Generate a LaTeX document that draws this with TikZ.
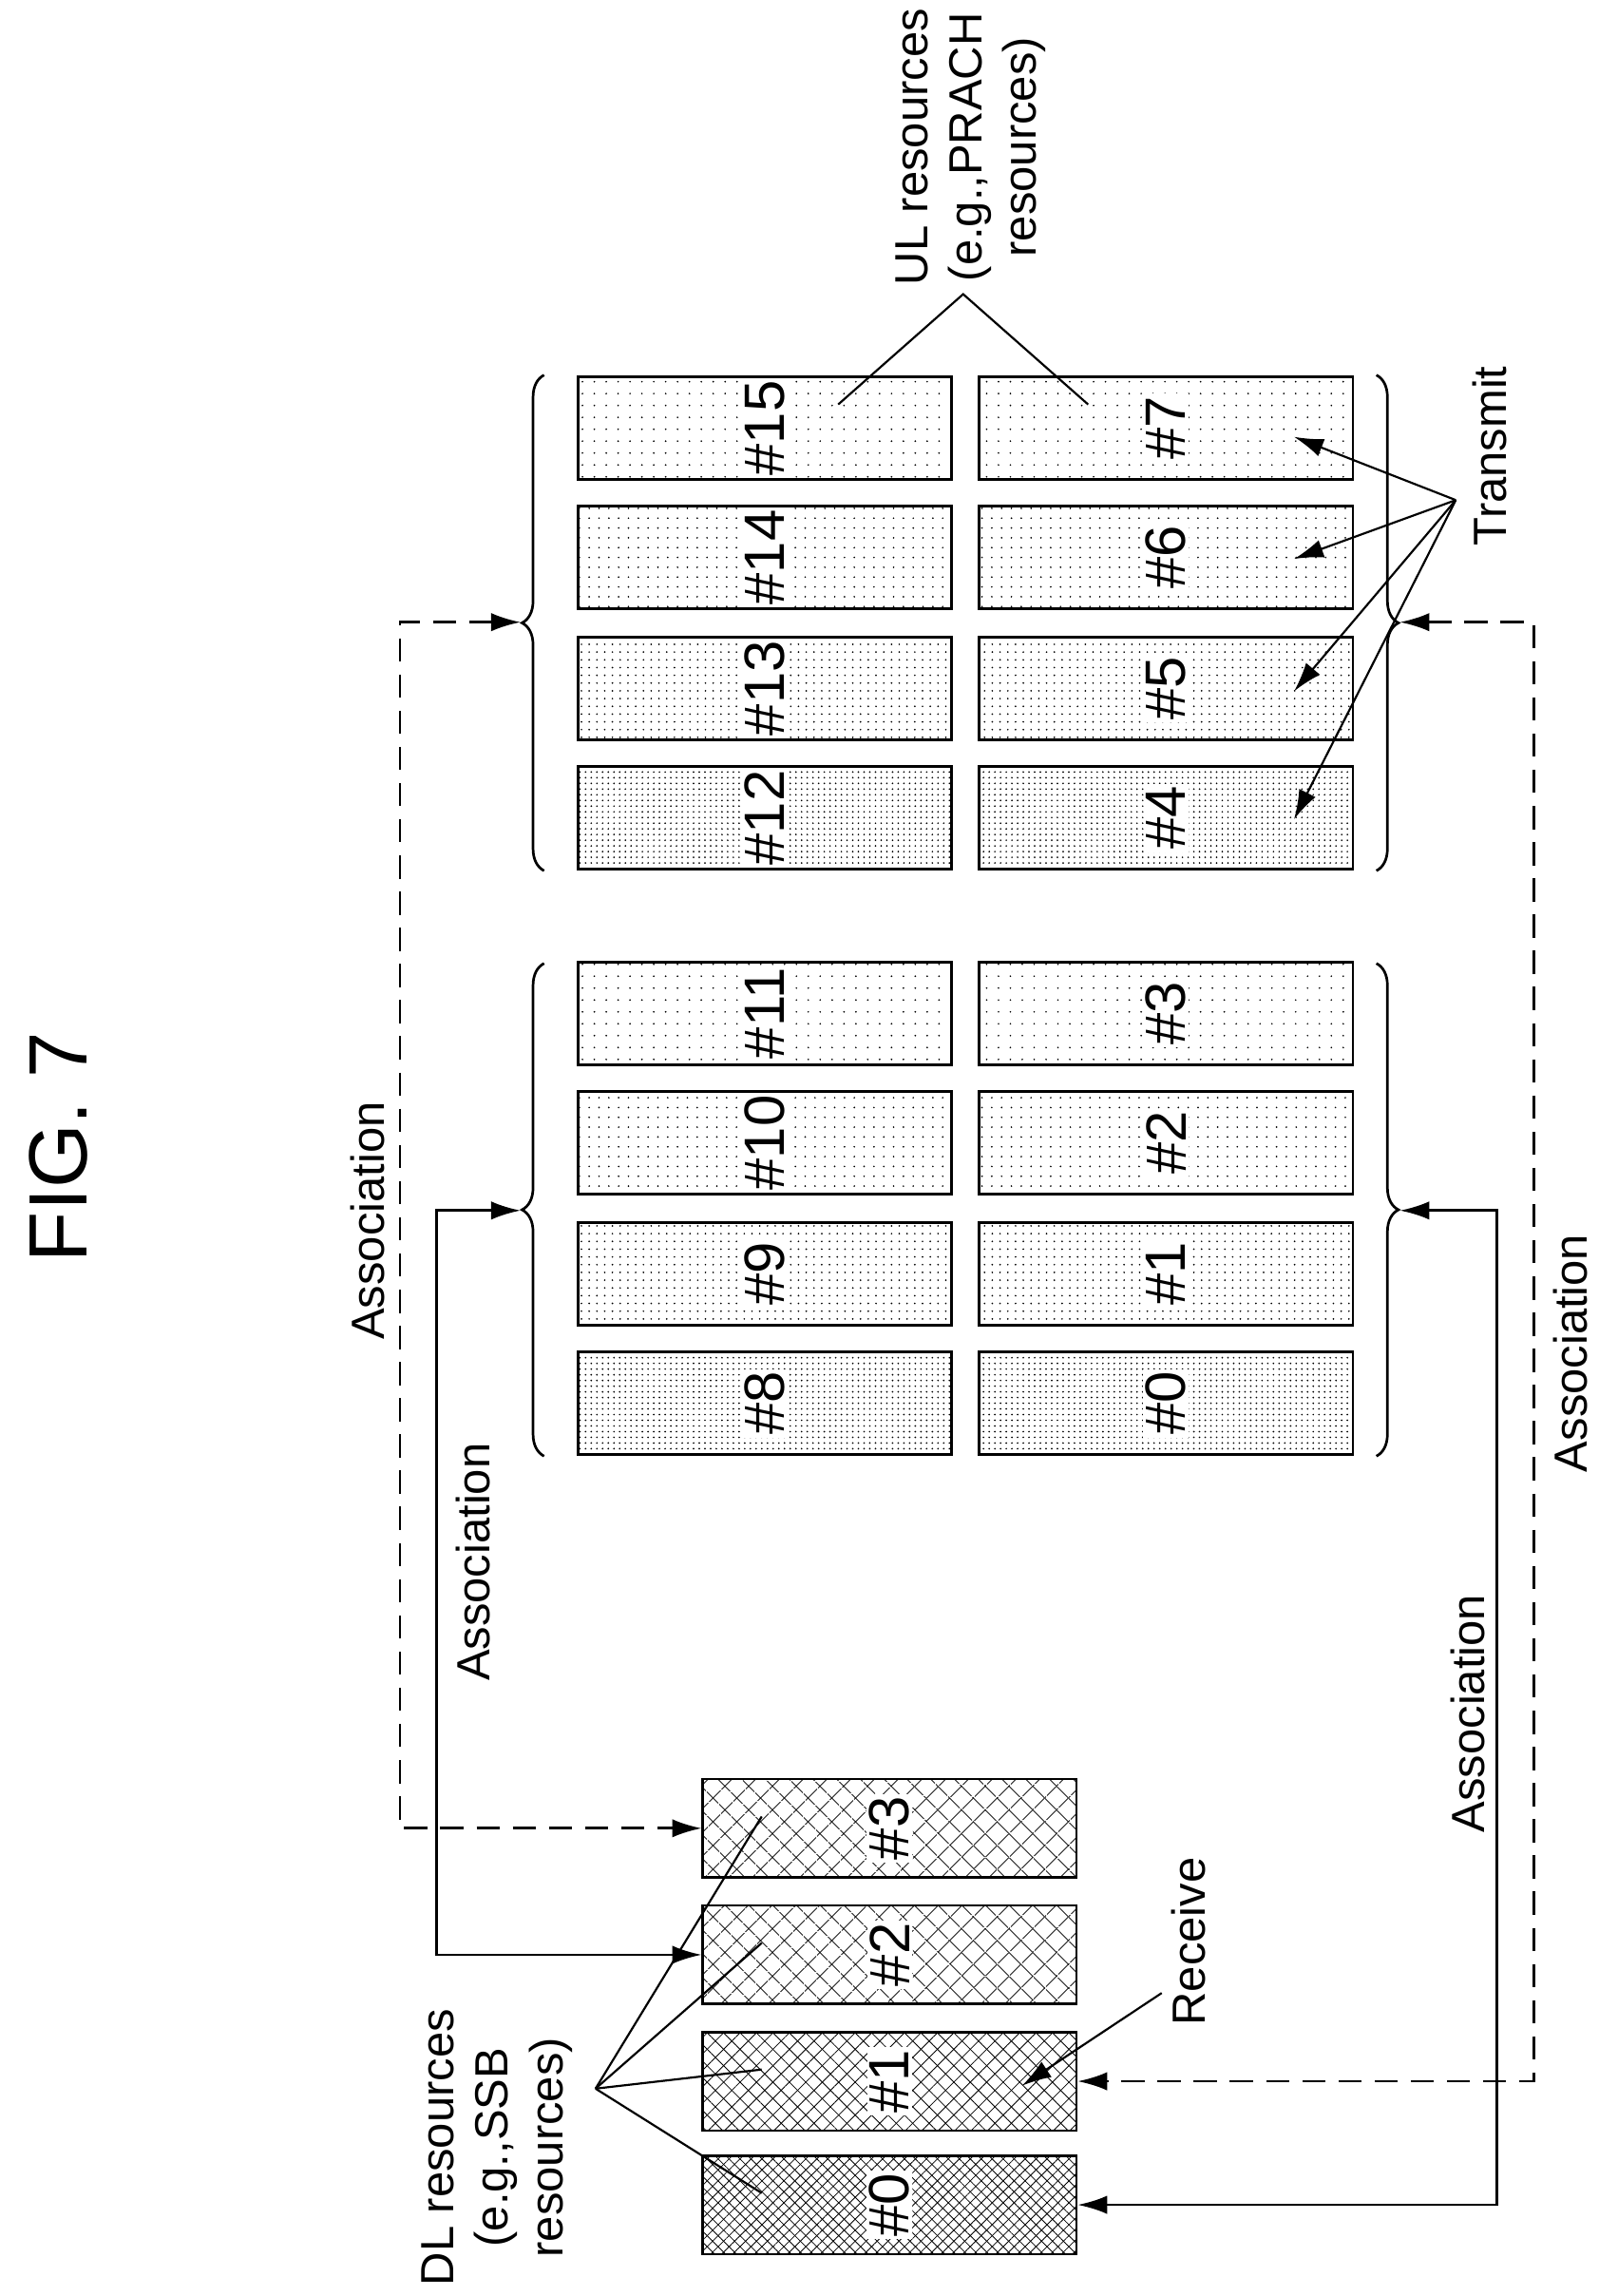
\documentclass[tikz,border=0pt]{standalone}
\usepackage{fontspec}
\setmainfont{Liberation Sans}
\usetikzlibrary{arrows.meta,patterns.meta,decorations.pathreplacing}
\tikzset{
  res/.style={draw, line width=1pt, rotate=90, minimum width=14mm, minimum height=50.8mm,
    inner sep=0pt, font=\fontsize{22}{24}\selectfont},
  num/.style={fill=white, inner sep=1pt, rotate=90, font=\fontsize{22}{24}\selectfont},
  ul1/.style={preaction={pattern={Dots[distance=2.2pt,radius=0.35pt]}}},
  ul2/.style={preaction={pattern={Dots[distance=3pt,radius=0.35pt]}}},
  ul3/.style={preaction={pattern={Dots[distance=3.8pt,radius=0.35pt]}}},
  ul4/.style={preaction={pattern={Dots[distance=4.6pt,radius=0.35pt]}}},
  dl1/.style={preaction={pattern={Lines[angle=45,distance=3pt,line width=0.3pt]}},
    postaction={pattern={Lines[angle=-45,distance=3pt,line width=0.3pt]}}},
  dl2/.style={preaction={pattern={Lines[angle=45,distance=4.5pt,line width=0.3pt]}},
    postaction={pattern={Lines[angle=-45,distance=4.5pt,line width=0.3pt]}}},
  dl3/.style={preaction={pattern={Lines[angle=45,distance=6.5pt,line width=0.3pt]}},
    postaction={pattern={Lines[angle=-45,distance=6.5pt,line width=0.3pt]}}},
  lbl/.style={rotate=90, align=center, font=\fontsize{18}{21}\selectfont},
  conn/.style={line width=1pt, {Latex[length=4mm,width=2.5mm]}-{Latex[length=4mm,width=2.5mm]}},
  tip/.style={line width=0.8pt, -{Latex[length=4mm,width=2.5mm]}},
  brc/.style={decorate, decoration={brace, amplitude=3mm}, line width=1pt},
}
\begin{document}
\begin{tikzpicture}[x=0.2mm, y=-0.2mm]
\useasboundingbox (0,0) rectangle (1087,1561);

% title
\node[rotate=90, font=\fontsize{32}{36}\selectfont] (fig) at (40,780) {FIG. 7};

% UL resources
\foreach \n/\m/\y/\s in {15/7/291/ul4, 14/6/379/ul3, 13/5/468/ul2, 12/4/556/ul1,
                        11/3/689/ul4, 10/2/777/ul3, 9/1/866/ul2, 8/0/954/ul1} {
  \node[res, \s] (u\n) at (520,\y) {};
  \node[num] at (u\n) {\#\n};
  \node[res, \s] (u\m) at (793,\y) {};
  \node[num] at (u\m) {\#\m};
}

% DL resources
\foreach \n/\y/\s in {3/1243/dl3, 2/1329/dl3, 1/1415/dl2, 0/1499/dl1} {
  \node[res, \s, minimum width=13.4mm] (d\n) at (605,\y) {};
  \node[num] at (d\n) {\#\n};
}

% braces
\draw[brc] (370,592) -- (370,255);
\draw[brc] (370,990) -- (370,655);
\draw[brc] (936,255) -- (936,592);
\draw[brc] (936,655) -- (936,990);
\coordinate (tl1) at (354,423);
\coordinate (tl0) at (354,823);
\coordinate (tr1) at (952,423);
\coordinate (tr0) at (952,823);

% associations
\draw[conn, dashed, dash pattern=on 9pt off 5pt] (tl1) -| (272,1243) -- (d3.north);
\draw[conn] (tl0) -| (297,1329) -- (d2.north);
\draw[conn] (tr0) -| (1018,1499) -- (d0.south);
\draw[conn, dashed, dash pattern=on 9pt off 5pt] (tr1) -| (1043,1415) -- (d1.south);
\node[lbl] (as1) at (250,830) {Association};
\node[lbl] (as2) at (322,1062) {Association};
\node[lbl] (as3) at (998,1165) {Association};
\node[lbl] (as4) at (1068,920) {Association};

% UL label
\node[lbl] (ul) at (660,100) {UL resources\\(e.g.,PRACH\\resources)};
\coordinate (ulh) at (655,200);
\draw[line width=0.8pt] (570,275) -- (ulh) -- (740,275);

% transmit
\node[lbl] (tx) at (1013,310) {Transmit};
\coordinate (txh) at (990,340);
\foreach \y in {297,380,470,557} \draw[tip] (txh) -- (880,\y);

% receive
\node[lbl] (rx) at (808,1320) {Receive};
\draw[tip] (790,1355) -- (695,1418);

% DL label
\node[lbl] (dl) at (338,1460) {DL resources\\(e.g.,SSB\\resources)};
\coordinate (dlh) at (405,1420);
\foreach \y in {1235,1321,1407,1491} \draw[line width=0.8pt] (dlh) -- (518,\y);
\end{tikzpicture}
\end{document}
